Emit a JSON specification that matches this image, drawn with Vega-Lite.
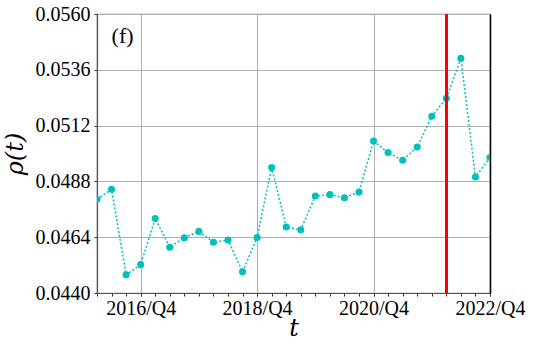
{
  "$schema": "https://vega.github.io/schema/vega-lite/v6.json",
  "width": 393,
  "height": 279,
  "autosize": {"type": "none"},
  "padding": {"left": 97, "top": 14, "right": 43, "bottom": 58},
  "background": "white",
  "config": {
    "view": {"stroke": "#808080", "strokeWidth": 1.2},
    "font": "Liberation Serif",
    "axis": {
      "labelFont": "Liberation Serif",
      "titleFont": "DejaVu Serif",
      "labelColor": "black",
      "titleColor": "black",
      "labelFontSize": 20,
      "titleFontSize": 24,
      "titleFontWeight": "normal",
      "titleFontStyle": "italic",
      "gridColor": "#b0b0b0",
      "gridWidth": 1,
      "gridOpacity": 1,
      "tickColor": "#333",
      "domainColor": "#555",
      "domainWidth": 1.2
    }
  },
  "data": {
    "values": [
      {"quarter": "2016/Q1", "rho": 0.04803},
      {"quarter": "2016/Q2", "rho": 0.04846},
      {"quarter": "2016/Q3", "rho": 0.04478},
      {"quarter": "2016/Q4", "rho": 0.04522},
      {"quarter": "2017/Q1", "rho": 0.04720},
      {"quarter": "2017/Q2", "rho": 0.04597},
      {"quarter": "2017/Q3", "rho": 0.04638},
      {"quarter": "2017/Q4", "rho": 0.04665},
      {"quarter": "2018/Q1", "rho": 0.04618},
      {"quarter": "2018/Q2", "rho": 0.04628},
      {"quarter": "2018/Q3", "rho": 0.04491},
      {"quarter": "2018/Q4", "rho": 0.04639},
      {"quarter": "2019/Q1", "rho": 0.04940},
      {"quarter": "2019/Q2", "rho": 0.04684},
      {"quarter": "2019/Q3", "rho": 0.04672},
      {"quarter": "2019/Q4", "rho": 0.04817},
      {"quarter": "2020/Q1", "rho": 0.04823},
      {"quarter": "2020/Q2", "rho": 0.04810},
      {"quarter": "2020/Q3", "rho": 0.04834},
      {"quarter": "2020/Q4", "rho": 0.05054},
      {"quarter": "2021/Q1", "rho": 0.05004},
      {"quarter": "2021/Q2", "rho": 0.04971},
      {"quarter": "2021/Q3", "rho": 0.05028},
      {"quarter": "2021/Q4", "rho": 0.05160},
      {"quarter": "2022/Q1", "rho": 0.05238},
      {"quarter": "2022/Q2", "rho": 0.05409},
      {"quarter": "2022/Q3", "rho": 0.04899},
      {"quarter": "2022/Q4", "rho": 0.04983}
    ]
  },
  "layer": [
    {
      "mark": {"type": "line", "color": "#00BFBF", "strokeDash": [2, 2], "strokeWidth": 1.5, "clip": true},
      "encoding": {
        "x": {
          "field": "quarter", "type": "ordinal", "sort": null,
          "scale": {"type": "point", "padding": 0},
          "axis": {
            "orient": "bottom",
            "values": ["2016/Q4", "2018/Q4", "2020/Q4", "2022/Q4"],
            "labelAngle": 0, "labelPadding": 2, "tickSize": 3,
            "grid": true, "title": "t", "titlePadding": -2
          }
        },
        "y": {
          "field": "rho", "type": "quantitative",
          "scale": {"domain": [0.044, 0.056], "zero": false, "nice": false},
          "axis": {
            "orient": "left",
            "values": [0.044, 0.0464, 0.0488, 0.0512, 0.0536, 0.056],
            "format": ".4f", "tickSize": 3, "labelPadding": 4,
            "grid": true, "title": "ρ(t)", "titlePadding": 8
          }
        }
      }
    },
    {
      "mark": {"type": "point", "filled": true, "color": "#00BFBF", "size": 50, "opacity": 1, "clip": true},
      "encoding": {
        "x": {
          "field": "quarter", "type": "ordinal", "sort": null,
          "axis": {"orient": "bottom", "labels": false, "grid": false, "domain": false, "tickSize": 3, "title": null}
        },
        "y": {
          "field": "rho", "type": "quantitative",
          "axis": {"orient": "right", "labels": false, "ticks": false, "grid": false, "domainColor": "black", "domainWidth": 1.5, "title": null}
        }
      }
    },
    {
      "mark": {"type": "rule", "color": "#ff0000", "strokeWidth": 2},
      "encoding": {"x": {"datum": "2022/Q1", "type": "ordinal", "axis": null}}
    },
    {
      "data": {"values": [{"label": "(f)", "q": "2016/Q2", "v": 0.05505}]},
      "mark": {"type": "text", "fontSize": 22, "font": "Liberation Serif", "align": "left", "baseline": "middle", "color": "black"},
      "encoding": {
        "text": {"field": "label"},
        "x": {"field": "q", "type": "ordinal", "axis": null},
        "y": {"field": "v", "type": "quantitative", "axis": null}
      }
    }
  ],
  "resolve": {"axis": {"x": "independent", "y": "independent"}}
}
